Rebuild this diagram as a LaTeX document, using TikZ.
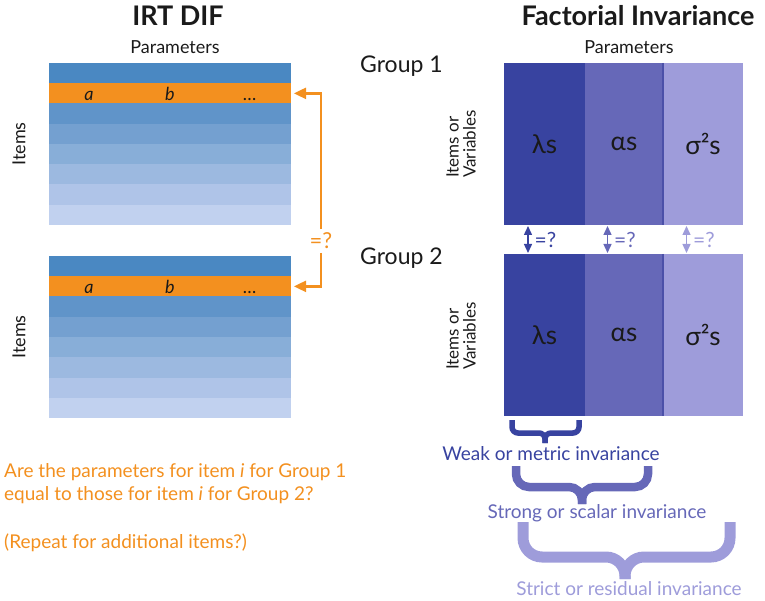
\documentclass[tikz,border=0pt]{standalone}
\usepackage{fontspec}
\setmainfont{Lato}
\usetikzlibrary{arrows.meta}
\definecolor{ink}{HTML}{1A1A1A}
\definecolor{rowA}{HTML}{4A88C2}
\definecolor{rowO}{HTML}{F3901F}
\definecolor{rowC}{HTML}{6094C9}
\definecolor{rowD}{HTML}{74A0D0}
\definecolor{rowE}{HTML}{88AED8}
\definecolor{rowF}{HTML}{9CB9E0}
\definecolor{rowG}{HTML}{AFC4E8}
\definecolor{rowH}{HTML}{C1D1EF}
\definecolor{fdark}{HTML}{3843A0}
\definecolor{fmid}{HTML}{6668B8}
\definecolor{flight}{HTML}{9E9CDA}
\definecolor{fline}{HTML}{4B50A8}
\newcommand\fsz[1]{\fontsize{#1}{#1}\selectfont}
\begin{document}
\begin{tikzpicture}[x=1pt,y=-1pt,
  tablerow/.style={minimum width=242pt, minimum height=20.25pt, inner sep=0pt, outer sep=0pt, anchor=north west, draw=none},
  parlbl/.style={font=\fsz{18}\itshape, text=ink, anchor=base, inner sep=0pt},
  fcol/.style={minimum height=162pt, inner sep=0pt, outer sep=0pt, anchor=north west, font=\fsz{26}, text=ink},
  title/.style={font=\fsz{27}\bfseries, text=ink, anchor=base, inner sep=0pt},
  plain/.style={font=\fsz{18}, text=ink, inner sep=0pt},
  grp/.style={font=\fsz{23}, text=ink, anchor=base west, inner sep=0pt},
  oarrow/.style={draw=rowO, line width=2.4pt, -{Triangle[length=12pt,width=11pt]}},
  dblarrow/.style={line width=1.4pt, {Triangle[length=9pt,width=8pt]}-{Triangle[length=9pt,width=8pt]}, shorten <=1pt, shorten >=1pt},
  eqlbl/.style={font=\fsz{21}, anchor=base west, inner sep=0pt},
  bracepath/.style={rounded corners=#1},
  bracelbl/.style={font=\fsz{19}, anchor=base, inner sep=0pt},
  otext/.style={font=\fsz{19}, text=rowO, anchor=base west, inner sep=0pt}
]
\useasboundingbox (0,0) rectangle (765,601);

% ---------- IRT DIF ----------
\node[title] (t-irt) at (178,26) {IRT DIF};
\node[plain, anchor=base] (p-left) at (175,54) {Parameters};

\foreach \g/\top in {1/63, 2/256}{
  \foreach \i/\c in {0/rowA,1/rowO,2/rowC,3/rowD,4/rowE,5/rowF,6/rowG,7/rowH}{
    \node[tablerow, fill=\c] (t\g r\i) at (49,{\top+20.25*\i}) {};
  }
}
\node[parlbl] (a1) at (89,101) {a};
\node[parlbl] (b1) at (170,101) {b};
\node[parlbl] (d1) at (250,101) {\dots};
\node[parlbl] (a2) at (89,294) {a};
\node[parlbl] (b2) at (170,294) {b};
\node[parlbl] (d2) at (250,294) {\dots};

\node[plain, rotate=90] (items1) at (19,144) {Items};
\node[plain, rotate=90] (items2) at (19,337) {Items};

\node[font=\fsz{22}, text=rowO, inner sep=3.5pt] (oeq) at (321,241) {=?};
\draw[oarrow, shorten >=3pt] (oeq.north) |- (t1r1.east);
\draw[oarrow, shorten >=3pt] (oeq.south) |- (t2r1.east);

\node[otext] (q1) at (4,477) {Are the parameters for item \textit{i} for Group 1};
\node[otext] (q2) at (4,500) {equal to those for item \textit{i} for Group 2?};
\node[otext] (q3) at (4,548) {(Repeat for additional items?)};

% ---------- Factorial Invariance ----------
\node[title] (t-fi) at (638,26) {Factorial Invariance};
\node[plain, anchor=base] (p-right) at (629,54) {Parameters};
\node[grp] (g1) at (360,73) {Group 1};
\node[grp] (g2) at (360,265) {Group 2};

\foreach \g/\top in {1/63, 2/254}{
  \node[fcol, fill=fdark, minimum width=81pt] (c\g1) at (504,\top) {λs};
  \node[fcol, fill=fmid, minimum width=78pt] (c\g2) at (585,\top) {αs};
  \node[fcol, fill=flight, minimum width=80pt] (c\g3) at (663,\top) {σ²s};
  \draw[fline, line width=1.6pt] (c\g2.north east) -- (c\g2.south east);
}
\node[plain, rotate=90, align=left, anchor=west, font=\fsz{17}] (iv1) at (461,178) {Items or\\Variables};
\node[plain, rotate=90, align=left, anchor=west, font=\fsz{17}] (iv2) at (461,370) {Items or\\Variables};

\foreach \k/\c in {1/fdark,2/fmid,3/flight}{
  \draw[dblarrow, draw=\c, fill=\c] ([xshift=-16.5pt]c1\k.south) -- ([xshift=-16.5pt]c2\k.north);
  \node[eqlbl, text=\c] (eq\k) at ([xshift=-10pt, yshift=-248pt+225pt]c1\k.south) {=?};
}

% braces
\draw[fdark, line width=5.5pt, bracepath=6pt] (512,420) -- (512,433) -- (545,433) -- (545,443);
\draw[fdark, line width=5.5pt, bracepath=6pt] (579,420) -- (579,433) -- (545,433) -- (545,443);
\node[bracelbl, text=fdark] (weak) at (551,460) {Weak or metric invariance};

\draw[fmid, line width=8.5pt, bracepath=13pt] (516,466) -- (516,487) -- (582,487) -- (582,504);
\draw[fmid, line width=8.5pt, bracepath=13pt] (648,466) -- (648,487) -- (582,487) -- (582,504);
\node[bracelbl, text=fmid] (strong) at (597,518) {Strong or scalar invariance};

\draw[flight, line width=11pt, bracepath=19pt] (523,522) -- (523,557) -- (625,557) -- (625,579);
\draw[flight, line width=11pt, bracepath=19pt] (730,522) -- (730,557) -- (625,557) -- (625,579);
\node[bracelbl, text=flight] (strict) at (629,595) {Strict or residual invariance};
\end{tikzpicture}
\end{document}
